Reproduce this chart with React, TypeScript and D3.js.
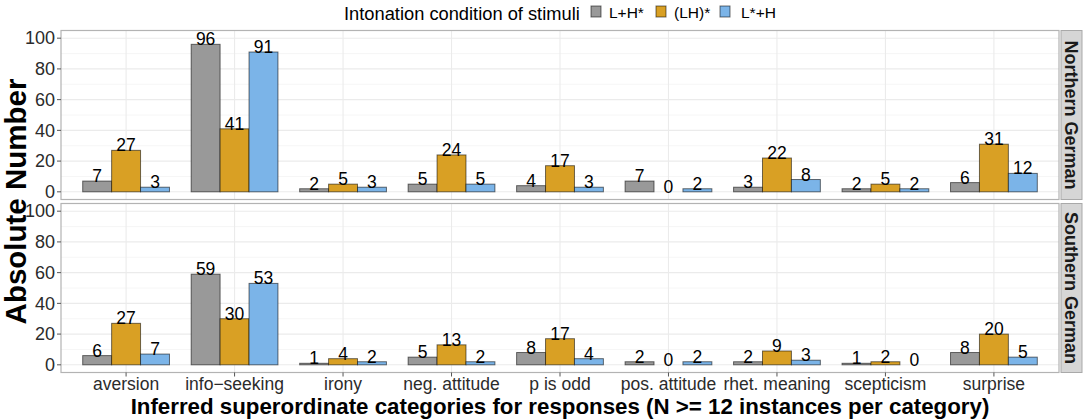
import React from 'react';
import * as d3 from 'd3';

const categories = [
  'aversion', 'info−seeking', 'irony', 'neg. attitude', 'p is odd',
  'pos. attitude', 'rhet. meaning', 'scepticism', 'surprise'
];
const conditions = ['L+H*', '(LH)*', 'L*+H'];
const colors = ['#999999', '#D9A024', '#7BB4E8'];
const regions = ['Northern German', 'Southern German'];

// counts per condition, one array per region
const northern = [
  [7, 96, 2, 5, 4, 7, 3, 2, 6],
  [27, 41, 5, 24, 17, 0, 22, 5, 31],
  [3, 91, 3, 5, 3, 2, 8, 2, 12]
];
const southern = [
  [6, 59, 1, 5, 8, 2, 2, 1, 8],
  [27, 30, 4, 13, 17, 0, 9, 2, 20],
  [7, 53, 2, 2, 4, 2, 3, 0, 5]
];
const yTicks = [0, 20, 40, 60, 80, 100];
const yMinor = [10, 30, 50, 70, 90];

const W = 1084;
const H = 420;
const left = 61;
const right = 1059;
const panelH = 169;
const panelTops = [30.5, 203.5];
const font = 'Liberation Sans, Arial, Helvetica, sans-serif';

const App: React.FC = () => {
  // discrete axis: 0.6 units of padding each side
  const x = d3.scalePoint<string>()
    .domain(categories)
    .range([left, right])
    .padding(0.6);
  const step = x.step();
  const groupW = step * 0.8;
  const inner = d3.scaleBand<string>()
    .domain(conditions)
    .range([-groupW / 2, groupW / 2]);

  const panels = [northern, southern].map((data, p) => {
    const top = panelTops[p];
    const y = d3.scaleLinear().domain([-5, 105]).range([top + panelH, top]);
    return (
      <g key={regions[p]}>
        <rect x={left} y={top} width={right - left} height={panelH} fill="#fff" />
        {yMinor.map(t => (
          <line key={'m' + t} x1={left} x2={right} y1={y(t)} y2={y(t)} stroke="#F4F4F4" strokeWidth={0.8} />
        ))}
        {yTicks.map(t => (
          <line key={'g' + t} x1={left} x2={right} y1={y(t)} y2={y(t)} stroke="#EBEBEB" strokeWidth={1.1} />
        ))}
        {categories.map(c => (
          <line key={'v' + c} x1={x(c)} x2={x(c)} y1={top} y2={top + panelH} stroke="#EBEBEB" strokeWidth={1.1} />
        ))}
        {data.map((vals, s) => vals.map((v, i) => {
          const cx = (x(categories[i]) as number) + (inner(conditions[s]) as number);
          return (
            <rect key={s + '-' + i} x={cx} y={y(v)} width={inner.bandwidth()} height={y(0) - y(v)}
              fill={colors[s]} stroke="#000" strokeOpacity={0.55} strokeWidth={1} />
          );
        }))}
        {data.map((vals, s) => vals.map((v, i) => {
          const cx = (x(categories[i]) as number) + (inner(conditions[s]) as number) + inner.bandwidth() / 2;
          return (
            <text key={'l' + s + '-' + i} x={cx} y={y(v) + 1} textAnchor="middle" fontSize={17.5} fill="#000">{v}</text>
          );
        }))}
        <rect x={left} y={top} width={right - left} height={panelH} fill="none" stroke="#B3B3B3" strokeWidth={1.2} />
        {yTicks.map(t => (
          <g key={'t' + t}>
            <line x1={left - 4} x2={left} y1={y(t)} y2={y(t)} stroke="#555" strokeWidth={1} />
            <text x={left - 6} y={y(t)} dy="0.35em" textAnchor="end" fontSize={18} fill="#2b2b2b">{t}</text>
          </g>
        ))}
        <rect x={1061} y={top} width={21} height={panelH} fill="#D6D6D6" stroke="#A9A9A9" strokeWidth={1} />
        <text transform={`translate(${1071.5},${top + panelH / 2}) rotate(90)`} textAnchor="middle" dy="0.35em"
          fontSize={18} fontWeight="bold" fill="#1a1a1a">{regions[p]}</text>
      </g>
    );
  });

  const bottom = panelTops[1] + panelH;
  const legendX = [591, 656, 720];
  const legendLabelX = [609, 674, 741];

  return (
    <svg width={W} height={H} style={{ position: 'absolute', left: 0, top: 0, fontFamily: font }}>
      <rect width={W} height={H} fill="#fff" />
      <text x={344} y={20} fontSize={18.3} fill="#000">Intonation condition of stimuli</text>
      {conditions.map((c, i) => (
        <g key={c}>
          <rect x={legendX[i]} y={6} width={10} height={11} fill={colors[i]} stroke="#000" strokeOpacity={0.55} />
          <text x={legendLabelX[i]} y={18} fontSize={15.5} fill="#000">{c}</text>
        </g>
      ))}
      {panels}
      {categories.map(c => (
        <g key={'x' + c}>
          <line x1={x(c)} x2={x(c)} y1={bottom} y2={bottom + 4} stroke="#555" strokeWidth={1} />
          <text x={x(c)} y={390} textAnchor="middle" fontSize={17.5} fill="#2b2b2b">{c}</text>
        </g>
      ))}
      <text x={(left + right) / 2} y={414} textAnchor="middle" fontSize={22.3} fontWeight="bold" fill="#000">
        Inferred superordinate categories for responses (N &gt;= 12 instances per category)
      </text>
      <text transform={`translate(25.5,${(panelTops[0] + bottom) / 2}) rotate(-90)`} textAnchor="middle"
        fontSize={29.5} fontWeight="bold" fill="#000">Absolute Number</text>
    </svg>
  );
};

export default App;
